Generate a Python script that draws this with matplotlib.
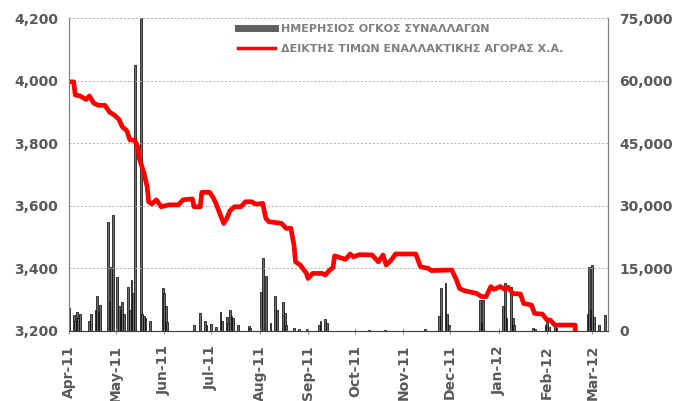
import numpy as np
import pandas as pd
import matplotlib
matplotlib.use("Agg")
import matplotlib.pyplot as plt
import matplotlib.dates as mdates
from matplotlib.lines import Line2D
from matplotlib.ticker import FuncFormatter, FixedLocator

# index values
index_dates = ["2011-04-01", "2011-04-04", "2011-04-05", "2011-04-08", "2011-04-12", "2011-04-14",
               "2011-04-17", "2011-04-20", "2011-04-24", "2011-04-27", "2011-04-30", "2011-05-03",
               "2011-05-05", "2011-05-08", "2011-05-10", "2011-05-13", "2011-05-15", "2011-05-16",
               "2011-05-19", "2011-05-21", "2011-05-22", "2011-05-24", "2011-05-27", "2011-05-30",
               "2011-06-04", "2011-06-10", "2011-06-13", "2011-06-19", "2011-06-20", "2011-06-24",
               "2011-06-25", "2011-06-30", "2011-07-02", "2011-07-04", "2011-07-09", "2011-07-11",
               "2011-07-13", "2011-07-16", "2011-07-20", "2011-07-23", "2011-07-27", "2011-07-29",
               "2011-08-01", "2011-08-03", "2011-08-05", "2011-08-07", "2011-08-15", "2011-08-18",
               "2011-08-21", "2011-08-23", "2011-08-24", "2011-08-27", "2011-08-31", "2011-09-01",
               "2011-09-04", "2011-09-10", "2011-09-12", "2011-09-15", "2011-09-17", "2011-09-18",
               "2011-09-25", "2011-09-28", "2011-09-30", "2011-10-04", "2011-10-12", "2011-10-16",
               "2011-10-19", "2011-10-21", "2011-10-24", "2011-10-27", "2011-11-09", "2011-11-12",
               "2011-11-17", "2011-11-19", "2011-12-02", "2011-12-05", "2011-12-07", "2011-12-10",
               "2011-12-18", "2011-12-21", "2011-12-24", "2011-12-27", "2011-12-29", "2012-01-02",
               "2012-01-05", "2012-01-07", "2012-01-10", "2012-01-15", "2012-01-17", "2012-01-22",
               "2012-01-24", "2012-01-29", "2012-02-01", "2012-02-03", "2012-02-06", "2012-02-19",
               "2012-02-20"]
index_values = [3996, 3996, 3954, 3951, 3940, 3951,
                3927, 3921, 3921, 3899, 3890, 3876,
                3853, 3840, 3810, 3810, 3789, 3752,
                3704, 3661, 3613, 3606, 3619, 3597,
                3603, 3603, 3619, 3622, 3597, 3597,
                3643, 3643, 3629, 3608, 3544, 3560,
                3584, 3597, 3597, 3613, 3613, 3606,
                3606, 3608, 3560, 3549, 3544, 3528,
                3528, 3475, 3421, 3411, 3384, 3368,
                3384, 3384, 3379, 3395, 3403, 3440,
                3429, 3446, 3437, 3444, 3443, 3421,
                3443, 3411, 3425, 3446, 3446, 3405,
                3400, 3393, 3395, 3363, 3336, 3329,
                3320, 3310, 3310, 3342, 3333, 3342,
                3333, 3340, 3320, 3318, 3288, 3283,
                3256, 3254, 3235, 3235, 3219, 3219,
                0]

# daily volume
volume_dates = ["2011-04-01", "2011-04-04", "2011-04-05", "2011-04-06", "2011-04-07", "2011-04-08",
                "2011-04-14", "2011-04-15", "2011-04-18", "2011-04-19", "2011-04-20", "2011-04-21",
                "2011-04-26", "2011-04-27", "2011-04-28", "2011-04-29", "2011-05-02", "2011-05-03",
                "2011-05-04", "2011-05-05", "2011-05-06", "2011-05-09", "2011-05-10", "2011-05-11",
                "2011-05-12", "2011-05-13", "2011-05-17", "2011-05-18", "2011-05-19", "2011-05-20",
                "2011-05-23", "2011-05-31", "2011-06-01", "2011-06-02", "2011-06-03", "2011-06-20",
                "2011-06-24", "2011-06-27", "2011-06-28", "2011-07-01", "2011-07-04", "2011-07-07",
                "2011-07-08", "2011-07-11", "2011-07-12", "2011-07-13", "2011-07-14", "2011-07-15",
                "2011-07-18", "2011-07-25", "2011-07-26", "2011-08-02", "2011-08-03", "2011-08-05",
                "2011-08-08", "2011-08-11", "2011-08-12", "2011-08-16", "2011-08-17", "2011-08-18",
                "2011-08-23", "2011-08-26", "2011-08-31", "2011-09-08", "2011-09-09", "2011-09-12",
                "2011-09-13", "2011-10-10", "2011-10-20", "2011-11-15", "2011-11-24", "2011-11-25",
                "2011-11-28", "2011-11-29", "2011-11-30", "2011-12-20", "2011-12-21", "2011-12-22",
                "2012-01-04", "2012-01-05", "2012-01-06", "2012-01-09", "2012-01-10", "2012-01-11",
                "2012-01-23", "2012-01-24", "2012-01-31", "2012-02-01", "2012-02-02", "2012-02-06",
                "2012-02-07", "2012-02-27", "2012-02-28", "2012-02-29", "2012-03-01", "2012-03-02",
                "2012-03-05", "2012-03-09"]
volume_values = [5500, 3800, 2500, 4500, 3000, 4000,
                 2500, 4000, 5000, 8400, 4500, 6200,
                 26200, 7000, 15400, 27800, 13000, 6000,
                 5000, 7000, 4000, 10600, 5000, 12200,
                 9100, 63700, 80000, 4000, 3500, 3000,
                 2500, 10300, 9100, 6000, 2200, 1400,
                 4200, 2400, 1500, 1600, 1000, 4600,
                 2500, 3400, 2000, 5000, 3500, 3000,
                 1500, 1200, 800, 9400, 17400, 13200,
                 2000, 8400, 5000, 7000, 4200, 1500,
                 700, 500, 400, 1500, 2500, 2900,
                 2000, 300, 300, 400, 3500, 10200,
                 11400, 4000, 1500, 7400, 2000, 7400,
                 6000, 11400, 3000, 10600, 3000, 1500,
                 700, 500, 1500, 2200, 1000, 1400,
                 800, 4000, 15400, 5000, 15800, 3400,
                 1500, 3800]

label_volume = "ΗΜΕΡΗΣΙΟΣ ΟΓΚΟΣ ΣΥΝΑΛΛΑΓΩΝ"
label_index = "ΔΕΙΚΤΗΣ ΤΙΜΩΝ ΕΝΑΛΛΑΚΤΙΚΗΣ ΑΓΟΡΑΣ Χ.Α."

tick_color = "#595959"
plt.rcParams['font.family'] = ['DejaVu Sans']

fig = plt.figure(figsize=(6.78, 4.01), dpi=100)
ax = fig.add_axes([69 / 678, 1 - 331 / 401, (608 - 69) / 678, (331 - 18) / 401])
ax2 = ax.twinx()

vd = pd.to_datetime(volume_dates)
ax2.bar(vd, volume_values, width=1.2, color="#6e6e6e", edgecolor="black", linewidth=0.5)
ax2.set_ylim(0, 75000)
ax2.yaxis.set_major_locator(FixedLocator([0, 15000, 30000, 45000, 60000, 75000]))

idx = pd.to_datetime(index_dates)
ax.plot(idx, index_values, color="#ff0000", linewidth=3.4, solid_joinstyle="round")
ax.set_ylim(3200, 4200)
ax.yaxis.set_major_locator(FixedLocator([3200, 3400, 3600, 3800, 4000, 4200]))
ax.set_zorder(ax2.get_zorder() + 1)
ax.patch.set_visible(False)

ax.set_xlim(pd.Timestamp("2011-04-01"), pd.Timestamp("2012-03-11"))
ax.xaxis.set_major_locator(mdates.MonthLocator())
ax.xaxis.set_major_formatter(mdates.DateFormatter("%b-%y"))

fmt = FuncFormatter(lambda v, p: f"{v:,.0f}")
ax.yaxis.set_major_formatter(fmt)
ax2.yaxis.set_major_formatter(fmt)

for a in (ax, ax2):
    for s in a.spines.values():
        s.set_color("#7f7f7f")
        s.set_linewidth(0.8)
    a.spines['top'].set_visible(False)
    a.tick_params(axis='y', length=0, pad=8, labelsize=10, labelcolor=tick_color)
    for lab in a.get_yticklabels():
        lab.set_fontweight('bold')

ax.spines['bottom'].set_color("#404040")
ax.tick_params(axis='x', direction='inout', length=4, width=0.6, color="#7f7f7f",
               labelsize=10, labelcolor=tick_color, labelrotation=90, pad=8)
for lab in ax.get_xticklabels():
    lab.set_fontweight('bold')

ax.grid(axis='y', color="#b0b0b0", linestyle=(0, (2, 2)), linewidth=0.7)
ax.set_axisbelow(True)

handles = [Line2D([0], [0], color="#5f5f5f", linewidth=5),
           Line2D([0], [0], color="#ff0000", linewidth=2.5)]
leg = fig.legend(handles, [label_volume, label_index], loc='upper left',
                 bbox_to_anchor=(238 / 678, 1 - 24 / 401), frameon=False,
                 prop={'size': 8, 'weight': 'bold'}, handlelength=3.3,
                 handletextpad=0.6, labelspacing=0.9, borderpad=0, borderaxespad=0)
for t in leg.get_texts():
    t.set_color("#7f7f7f")

fig.savefig("out.png", dpi=100)
